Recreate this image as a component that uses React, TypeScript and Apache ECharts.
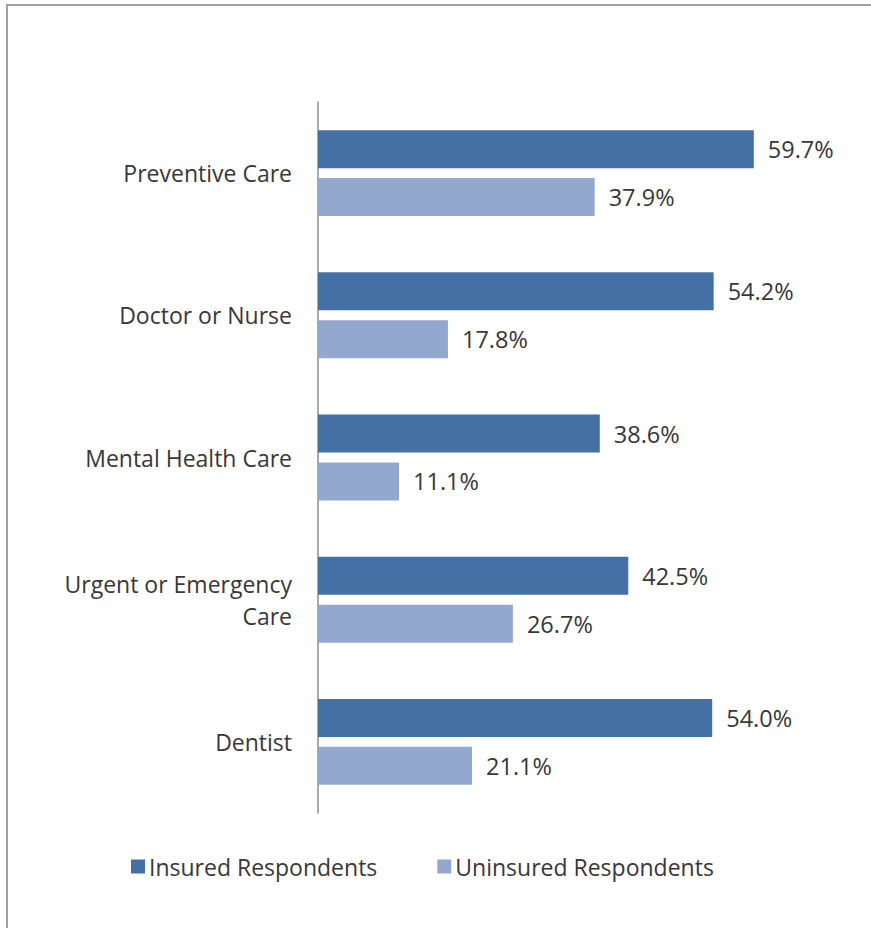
import React, { useEffect, useRef } from "react";
import * as echarts from "echarts";

const categories = ["Preventive Care", "Doctor or Nurse", "Mental Health Care", "Urgent or Emergency\nCare", "Dentist"];
const insured = [59.7, 54.2, 38.6, 42.5, 54.0];
const uninsured = [37.9, 17.8, 11.1, 26.7, 21.1];
const seriesNames = ["Insured Respondents", "Uninsured Respondents"];

const FONT = "'Open Sans', 'Liberation Sans', sans-serif";
const TEXT = "#383838";

export default function App() {
  const ref = useRef<HTMLDivElement>(null);
  useEffect(() => {
    if (!ref.current) return;
    const chart = echarts.init(ref.current, null, { renderer: "svg" });
    const valueLabel = {
      show: true,
      position: "right",
      distance: 14,
      fontSize: 23.5,
      fontFamily: FONT,
      color: TEXT,
      formatter: (p: any) => p.value.toFixed(1) + "%",
    };
    chart.setOption({
      animation: false,
      backgroundColor: "#ffffff",
      grid: { left: 318, top: 102, width: 511, height: 711, containLabel: false },
      xAxis: {
        type: "value",
        min: 0,
        max: 70,
        show: false,
      },
      yAxis: {
        type: "category",
        data: categories,
        inverse: true,
        axisLine: { show: true, lineStyle: { color: "#8c8c8c", width: 1.5 } },
        axisTick: { show: false },
        axisLabel: {
          margin: 26,
          fontSize: 23,
          fontFamily: FONT,
          color: TEXT,
          align: "right",
          lineHeight: 32,
        },
      },
      legend: {
        left: 126,
        top: 850,
        itemWidth: 14,
        itemHeight: 14,
        itemGap: 60,
        icon: "rect",
        textStyle: { fontSize: 23, fontFamily: FONT, color: TEXT, padding: [0, 0, 0, -1] },
        data: seriesNames,
      },
      series: [
        {
          name: seriesNames[0],
          type: "bar",
          data: insured,
          barWidth: 38,
          barGap: "26%",
          itemStyle: { color: "#4570a6" },
          label: valueLabel,
        },
        {
          name: seriesNames[1],
          type: "bar",
          data: uninsured,
          barWidth: 38,
          itemStyle: { color: "#93a8cf" },
          label: valueLabel,
        },
      ],
      graphic: [
        { type: "line", shape: { x1: 6, y1: 5, x2: 871, y2: 5 }, style: { stroke: "#a0a0a0", lineWidth: 2 } },
        { type: "line", shape: { x1: 7, y1: 5, x2: 7, y2: 928 }, style: { stroke: "#a0a0a0", lineWidth: 2 } },
      ],
    });
    return () => chart.dispose();
  }, []);
  return (
    <div
      ref={ref}
      style={{ position: "fixed", left: 0, top: 0, width: 871, height: 928 }}
    />
  );
}
